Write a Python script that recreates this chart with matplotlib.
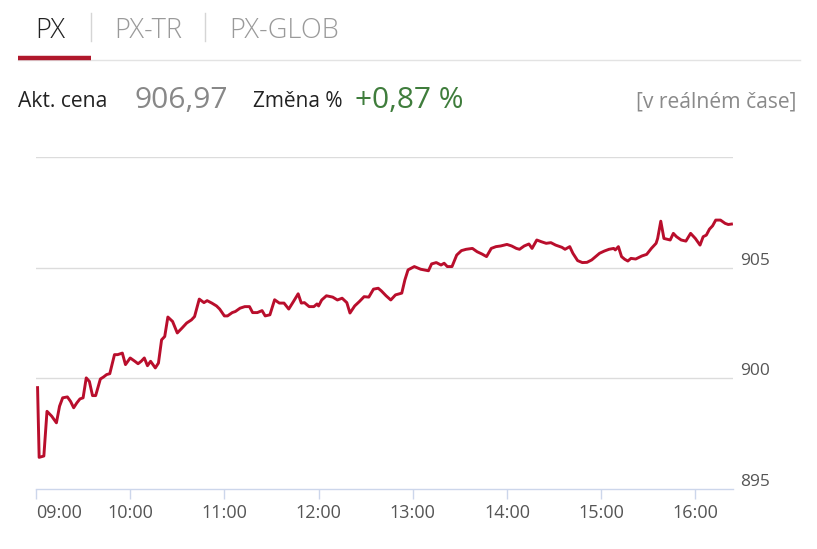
import matplotlib
matplotlib.use("Agg")
import matplotlib.pyplot as plt
from matplotlib.lines import Line2D
import pandas as pd

plt.rcParams['font.family'] = ['Open Sans', 'DejaVu Sans']

# intraday PX index
times = ["09:01", "09:02", "09:05", "09:07", "09:10", "09:13", "09:15", "09:17", "09:20", "09:22",
         "09:24", "09:26", "09:28", "09:30", "09:32", "09:34", "09:36", "09:38", "09:41", "09:43",
         "09:45", "09:47", "09:50", "09:52", "09:55", "09:57", "10:00", "10:03", "10:05", "10:07",
         "10:09", "10:11", "10:13", "10:16", "10:18", "10:20", "10:22", "10:24", "10:27", "10:30",
         "10:33", "10:36", "10:39", "10:41", "10:44", "10:47", "10:49", "10:52", "10:55", "10:57",
         "11:00", "11:02", "11:05", "11:07", "11:10", "11:13", "11:16", "11:18", "11:21", "11:24",
         "11:26", "11:29", "11:32", "11:35", "11:38", "11:41", "11:44", "11:47", "11:49", "11:51",
         "11:54", "11:57", "11:59", "12:00", "12:02", "12:05", "12:09", "12:12", "12:15", "12:18",
         "12:20", "12:23", "12:26", "12:29", "12:32", "12:35", "12:38", "12:40", "12:43", "12:46",
         "12:49", "12:53", "12:55", "12:57", "13:01", "13:05", "13:10", "13:12", "13:15", "13:18",
         "13:20", "13:22", "13:25", "13:28", "13:31", "13:34", "13:38", "13:41", "13:44", "13:47",
         "13:50", "13:53", "13:56", "14:00", "14:03", "14:06", "14:08", "14:11", "14:14", "14:16",
         "14:19", "14:22", "14:25", "14:28", "14:31", "14:35", "14:37", "14:40", "14:42", "14:45",
         "14:48", "14:51", "14:54", "14:57", "14:59", "15:02", "15:05", "15:08", "15:09", "15:11",
         "15:13", "15:15", "15:17", "15:19", "15:22", "15:26", "15:29", "15:32", "15:35", "15:36",
         "15:38", "15:39", "15:40", "15:44", "15:46", "15:48", "15:51", "15:54", "15:57", "16:00",
         "16:03", "16:05", "16:07", "16:09", "16:11", "16:13", "16:16", "16:19", "16:21", "16:23"]

prices = [899.58, 896.43, 896.49, 898.51, 898.29, 897.99, 898.74, 899.12, 899.16, 898.96,
          898.67, 898.89, 899.07, 899.12, 900.02, 899.86, 899.22, 899.22, 899.97, 900.06,
          900.17, 900.21, 901.07, 901.07, 901.14, 900.62, 900.92, 900.77, 900.66, 900.77,
          900.92, 900.57, 900.77, 900.47, 900.69, 901.74, 901.89, 902.77, 902.57, 902.05,
          902.27, 902.50, 902.64, 902.79, 903.58, 903.42, 903.51, 903.40, 903.27, 903.13,
          902.82, 902.82, 902.97, 903.02, 903.17, 903.24, 903.24, 902.97, 902.97, 903.06,
          902.82, 902.87, 903.55, 903.40, 903.40, 903.13, 903.47, 903.82, 903.40, 903.42,
          903.24, 903.24, 903.36, 903.27, 903.54, 903.73, 903.67, 903.54, 903.62, 903.42,
          902.95, 903.27, 903.47, 903.69, 903.67, 904.03, 904.07, 903.95, 903.73, 903.54,
          903.77, 903.85, 904.45, 904.90, 905.05, 904.93, 904.86, 905.17, 905.23, 905.12,
          905.20, 905.05, 905.05, 905.57, 905.77, 905.83, 905.87, 905.72, 905.62, 905.50,
          905.87, 905.95, 905.98, 906.05, 905.98, 905.87, 905.83, 905.98, 906.07, 905.87,
          906.25, 906.17, 906.10, 906.13, 906.02, 905.92, 905.83, 905.95, 905.65, 905.32,
          905.23, 905.24, 905.35, 905.53, 905.65, 905.75, 905.83, 905.87, 905.80, 905.95,
          905.50, 905.38, 905.30, 905.42, 905.39, 905.53, 905.60, 905.87, 906.10, 906.32,
          907.10, 906.70, 906.32, 906.25, 906.55, 906.40, 906.25, 906.20, 906.55, 906.32,
          906.02, 906.40, 906.47, 906.74, 906.89, 907.15, 907.15, 907.00, 906.95, 906.97]

tabs = ["PX", "PX-TR", "PX-GLOB"]
hour_labels = ["09:00", "10:00", "11:00", "12:00", "13:00", "14:00", "15:00", "16:00"]
y_levels = [895, 900, 905, 910]
y_labels = ["895", "900", "905", ""]
last_price = "906,97"
change = "+0,87 %"

W, H = 817, 549
RED = "#b90e2c"
AXIS = "#ccd6eb"


def minutes(t):
    ts = pd.to_datetime(t, format="%H:%M")
    return (ts.hour - 9) * 60 + ts.minute


df = pd.DataFrame({"time": times, "price": prices})
df["min"] = [minutes(t) for t in df["time"]]
hour_pos = [minutes(t) for t in hour_labels]

fig = plt.figure(figsize=(W / 100, H / 100), dpi=100)


def fx(x):
    return x / W


def fy(y):
    return 1 - y / H


# header: tabs
tab_x = [35, 114, 229]
tab_col = ["#222222", "#9a9a9a", "#9a9a9a"]
for name, x, c in zip(tabs, tab_x, tab_col):
    fig.text(fx(x), fy(38), name, fontsize=19.5, color=c, va="baseline", ha="left",
             fontweight="light")
for x in [91, 205]:
    fig.add_artist(Line2D([fx(x), fx(x)], [fy(13), fy(41)], color="#d5d5d5", lw=1))
fig.add_artist(Line2D([fx(18), fx(800)], [fy(60), fy(60)], color="#e3e3e3", lw=1))
fig.add_artist(Line2D([fx(18), fx(91)], [fy(57.5), fy(57.5)], color="#b0182c", lw=3.2,
                      solid_capstyle="butt"))

# header: price info
fig.text(fx(18), fy(107), "Akt. cena", fontsize=15.2, color="#222222", va="baseline")
fig.text(fx(134), fy(108), last_price, fontsize=21.6, color="#888888", va="baseline")
fig.text(fx(253), fy(107), "Změna %", fontsize=15, color="#222222", va="baseline")
fig.text(fx(355), fy(108), change, fontsize=21.5, color="#3f7d3c", va="baseline")
fig.text(fx(797), fy(107), "[v reálném čase]", fontsize=15.2, color="#8a8a8a",
         va="baseline", ha="right")

# chart
ax = fig.add_axes([fx(36), fy(489), fx(733) - fx(36), fy(157) - fy(489)])
ax.plot(df["min"], df["price"], color=RED, lw=2.1, solid_joinstyle="round")
ax.set_xlim(0, 444)
ax.set_ylim(895, 910)

for s in ["top", "left", "right"]:
    ax.spines[s].set_visible(False)
ax.spines["bottom"].set_color(AXIS)
ax.spines["bottom"].set_linewidth(1)

for v in y_levels[1:]:
    ax.axhline(v, color="#dcdcdc", lw=1, zorder=0)
ax.set_yticks([])
for v, lab in zip(y_levels, y_labels):
    ax.annotate(lab, xy=(1, v), xycoords=("axes fraction", "data"), xytext=(7, 3),
                textcoords="offset pixels", ha="left", va="baseline", fontsize=12.5,
                color="#555555")

ax.set_xticks(hour_pos, hour_labels)
ax.tick_params(axis="x", length=7.5, width=1, color=AXIS, labelsize=13,
               labelcolor="#555555", pad=3)
ax.get_xticklabels()[0].set_ha("left")

fig.savefig("out.png", dpi=100)
